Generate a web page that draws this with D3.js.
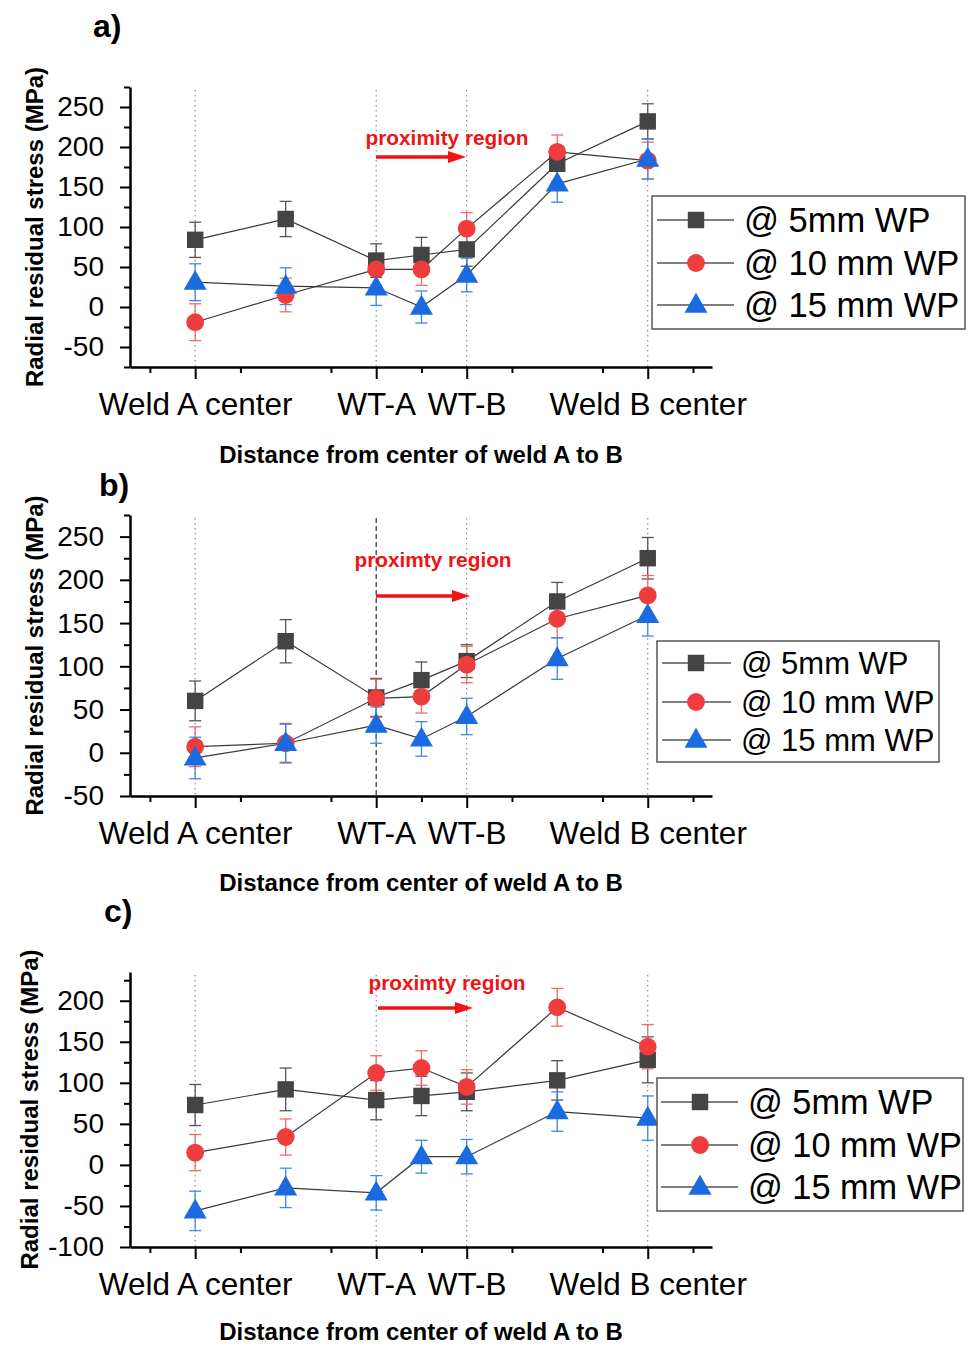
<!DOCTYPE html>
<html><head><meta charset="utf-8">
<script src="https://cdn.jsdelivr.net/npm/d3@7"></script>
<style>
body{margin:0;background:#fff}
text{font-family:Arial,"Liberation Sans",Helvetica,sans-serif}
</style>
</head><body>
<svg id="chart" width="971" height="1346"></svg>
<script>
// ---------- data ----------
const xPositions = [1, 3, 5, 6, 7, 9, 11];
const xMajorTicks = [1, 5, 7, 11];
const xMajorLabels = ["Weld A center", "WT-A", "WT-B", "Weld B center"];
const xMinorTicks = [0, 2, 4, 6, 8, 10, 12];
const seriesNames = ["@ 5mm WP", "@ 10 mm WP", "@ 15 mm WP"];
const panelLabels = ["a)", "b)", "c)"];
const annotations = ["proximity region", "proximty region", "proximty region"];
const xTitle = "Distance from center of weld A to B";
const yTitle = "Radial residual stress (MPa)";

// panel a
const a5 = [84, 110, 58, 65, 72, 179, 232];
const a5Err = [22, 22, 21, 22, 21, 22, 22];
const a10 = [-19, 15, 47, 47, 98, 194, 183];
const a10Err = [23, 21, 20, 20, 20, 21, 23];
const a15 = [31, 26, 24, 0, 40, 154, 185];
const a15Err = [23, 23, 22, 20, 21, 23, 25];
const aYTicks = [-50, 0, 50, 100, 150, 200, 250];

// panel b
const b5 = [60, 129, 64, 84, 106, 175, 225];
const b5Err = [23, 25, 22, 21, 19, 22, 24];
const b10 = [7, 11, 63, 65, 102, 155, 182];
const b10Err = [23, 23, 22, 19, 21, 22, 23];
const b15 = [-6, 11, 32, 16, 42, 109, 159];
const b15Err = [24, 22, 21, 20, 21, 24, 24];
const bYTicks = [-50, 0, 50, 100, 150, 200, 250];

// panel c
const c5 = [73, 92, 79, 84, 89, 103, 128];
const c5Err = [25, 26, 24, 24, 23, 24, 28];
const c10 = [15, 34, 112, 118, 95, 192, 144];
const c10Err = [22, 22, 21, 21, 21, 23, 27];
const c15 = [-56, -28, -34, 10, 10, 65, 57];
const c15Err = [24, 24, 21, 20, 21, 24, 27];
const cYTicks = [-100, -50, 0, 50, 100, 150, 200];

// ---------- styles / layout ----------
const markerFill = ["#444444", "#ef3d3d", "#1b6be0"];
const errColor = ["#555555", "#f06a6a", "#3a8ae6"];
const lineColor = "#3a3a3a";

const panels = [
  { s: [a5, a10, a15], e: [a5Err, a10Err, a15Err], ticks: aYTicks,
    top: 87, bottom: 367, ydom: [-75, 275], label: [93, 37], xt: 463,
    ann: [447, 145], arrow: [376, 466, 157],
    leg: { x0: 652, x1: 965, y0: 196, y1: 329, rows: [220, 263, 305], l0: 657, l1: 734, m: 696, tx: 744, fs: 34.5 },
    ytx: 35 + 8, wtaDashed: false },
  { s: [b5, b10, b15], e: [b5Err, b10Err, b15Err], ticks: bYTicks,
    top: 515, bottom: 796, ydom: [-50, 275], label: [99, 496], xt: 891,
    ann: [433, 567], arrow: [376, 470, 596],
    leg: { x0: 657, x1: 939, y0: 641, y1: 762, rows: [663, 702, 740], l0: 662, l1: 731, m: 696, tx: 741, fs: 31 },
    ytx: 35 + 8, wtaDashed: true },
  { s: [c5, c10, c15], e: [c5Err, c10Err, c15Err], ticks: cYTicks,
    top: 972, bottom: 1247, ydom: [-100, 235], label: [104, 922], xt: 1340,
    ann: [447, 990], arrow: [378, 473, 1008],
    leg: { x0: 657, x1: 963, y0: 1078, y1: 1211, rows: [1102, 1145, 1187], l0: 661, l1: 738, m: 700, tx: 748, fs: 34.3 },
    ytx: 38, wtaDashed: false }
];

const svg = d3.select("#chart");
const x = d3.scaleLinear().domain([-0.44, 12.42]).range([130, 712]);

const sym = [d3.symbolSquare, d3.symbolCircle, d3.symbolTriangle];
const symSize = [270, 250, 230];

function marker(g, i, cx, cy) {
  let t = `translate(${cx},${cy})`;
  if (i === 2) t += " translate(0,1)";
  g.append("path")
    .attr("d", d3.symbol().type(sym[i]).size(symSize[i])())
    .attr("transform", t)
    .attr("fill", markerFill[i]);
}

panels.forEach((p, pi) => {
  const y = d3.scaleLinear().domain(p.ydom).range([p.bottom, p.top]);
  const g = svg.append("g");

  // reference vertical lines
  xMajorTicks.forEach((v, k) => {
    const dashed = p.wtaDashed && k === 1;
    g.append("line")
      .attr("x1", x(v)).attr("x2", x(v))
      .attr("y1", p.top + 3).attr("y2", p.bottom)
      .attr("stroke", dashed ? "#333" : "#777")
      .attr("stroke-width", dashed ? 1.2 : 1)
      .attr("stroke-dasharray", dashed ? "5,3" : "1.5,3.5");
  });

  // annotation
  g.append("text").attr("x", p.ann[0]).attr("y", p.ann[1])
    .attr("text-anchor", "middle").attr("fill", "#f01414")
    .attr("font-weight", "bold").attr("font-size", 20.8)
    .text(annotations[pi]);
  const [ax0, ax1, ay] = p.arrow;
  g.append("line").attr("x1", ax0).attr("x2", ax1 - 16).attr("y1", ay).attr("y2", ay)
    .attr("stroke", "#f01414").attr("stroke-width", 3.5);
  g.append("path").attr("d", `M${ax1 - 18},${ay - 6}L${ax1},${ay}L${ax1 - 18},${ay + 6}Z`)
    .attr("fill", "#f01414");

  // series lines
  const line = d3.line().x((d, k) => x(xPositions[k])).y(d => y(d));
  p.s.forEach((vals) => {
    g.append("path").datum(vals).attr("d", line)
      .attr("fill", "none").attr("stroke", lineColor).attr("stroke-width", 1.2);
  });

  // error bars
  p.s.forEach((vals, si) => {
    vals.forEach((v, k) => {
      const cx = x(xPositions[k]);
      const e = p.e[si][k];
      const eg = g.append("g").attr("stroke", errColor[si]).attr("stroke-width", 1.3);
      eg.append("line").attr("x1", cx).attr("x2", cx).attr("y1", y(v - e)).attr("y2", y(v + e));
      eg.append("line").attr("x1", cx - 6).attr("x2", cx + 6).attr("y1", y(v - e)).attr("y2", y(v - e));
      eg.append("line").attr("x1", cx - 6).attr("x2", cx + 6).attr("y1", y(v + e)).attr("y2", y(v + e));
    });
  });

  // markers
  p.s.forEach((vals, si) => {
    vals.forEach((v, k) => marker(g, si, x(xPositions[k]), y(v)));
  });

  // y axis
  const yMinor = d3.range(p.ydom[0], p.ydom[1] + 1, 25).filter(v => !p.ticks.includes(v));
  const yAx = g.append("g").attr("transform", `translate(${x.range()[0]},0)`)
    .call(d3.axisLeft(y).tickValues(p.ticks).tickSize(10).tickSizeOuter(0)
      .tickPadding(16).tickFormat(d => String(d)));
  yAx.selectAll("text").attr("font-size", 28).attr("fill", "#000")
    .style("font-family", "Arial, 'Liberation Sans', sans-serif");
  yAx.select(".domain").attr("stroke-width", 2.5);
  yAx.selectAll(".tick line").attr("stroke-width", 2);
  const yAxMin = g.append("g").attr("transform", `translate(${x.range()[0]},0)`)
    .call(d3.axisLeft(y).tickValues(yMinor).tickSize(6).tickSizeOuter(0).tickFormat(""));
  yAxMin.select(".domain").remove();
  yAxMin.selectAll(".tick line").attr("stroke-width", 2);

  // x axis
  const xAx = g.append("g").attr("transform", `translate(0,${p.bottom})`)
    .call(d3.axisBottom(x).tickValues(xMajorTicks).tickSize(12).tickSizeOuter(0)
      .tickPadding(14).tickFormat((d, k) => xMajorLabels[k]));
  xAx.selectAll("text").attr("font-size", 31.5).attr("fill", "#000")
    .style("font-family", "Arial, 'Liberation Sans', sans-serif");
  xAx.select(".domain").attr("stroke-width", 2.5);
  xAx.selectAll(".tick line").attr("stroke-width", 2);
  const xAxMin = g.append("g").attr("transform", `translate(0,${p.bottom})`)
    .call(d3.axisBottom(x).tickValues(xMinorTicks).tickSize(6).tickSizeOuter(0).tickFormat(""));
  xAxMin.select(".domain").remove();
  xAxMin.selectAll(".tick line").attr("stroke-width", 2);

  // titles
  g.append("text").attr("x", 421).attr("y", p.xt)
    .attr("text-anchor", "middle").attr("font-weight", "bold").attr("font-size", 24)
    .text(xTitle);
  g.append("text")
    .attr("transform", `translate(${p.ytx},${(p.top + p.bottom) / 2}) rotate(-90)`)
    .attr("text-anchor", "middle").attr("font-weight", "bold").attr("font-size", 24)
    .text(yTitle);
  g.append("text").attr("x", p.label[0]).attr("y", p.label[1])
    .attr("font-weight", "bold").attr("font-size", 32).text(panelLabels[pi]);

  // legend
  const L = p.leg;
  g.append("rect").attr("x", L.x0).attr("y", L.y0)
    .attr("width", L.x1 - L.x0).attr("height", L.y1 - L.y0)
    .attr("fill", "#fff").attr("stroke", "#555").attr("stroke-width", 1.5);
  seriesNames.forEach((name, si) => {
    const ry = L.rows[si];
    g.append("line").attr("x1", L.l0).attr("x2", L.l1).attr("y1", ry).attr("y2", ry)
      .attr("stroke", "#555").attr("stroke-width", 1.5);
    marker(g, si, L.m, ry);
    g.append("text").attr("x", L.tx).attr("y", ry).attr("dy", "0.36em")
      .attr("font-size", L.fs).attr("fill", "#000").text(name);
  });
});
</script>
</body></html>
